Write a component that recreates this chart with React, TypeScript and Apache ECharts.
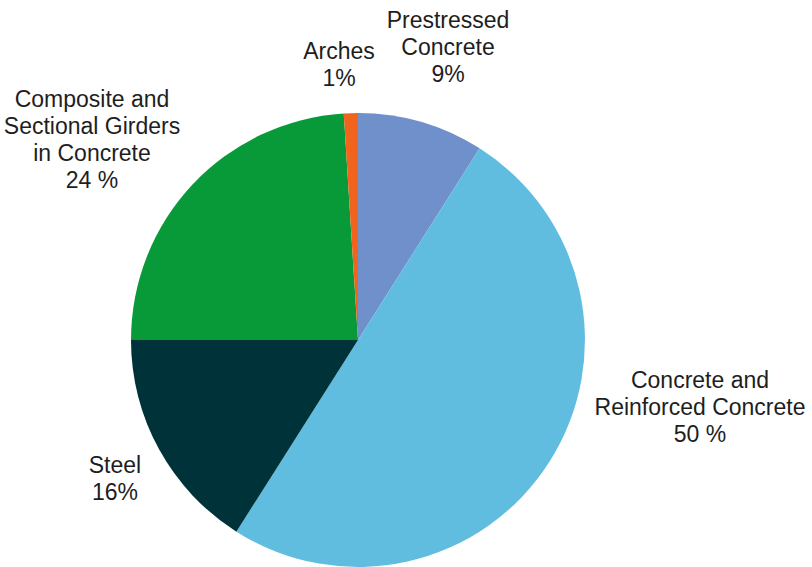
import React, { useEffect, useRef } from "react";
import * as echarts from "echarts";

const categories = [
  "Prestressed\nConcrete",
  "Concrete and\nReinforced Concrete",
  "Steel",
  "Composite and\nSectional Girders\nin Concrete",
  "Arches",
];
const values = [9, 50, 16, 24, 1];
const percentLabels = ["9%", "50 %", "16%", "24 %", "1%"];
const colors = ["#7090cc", "#60bde0", "#00323a", "#089a38", "#f0641e"];
const labelPositions: [number, number][] = [
  [448, 47],
  [700, 407],
  [115, 478],
  [92, 139],
  [339, 64],
];

export default function App() {
  const ref = useRef<HTMLDivElement>(null);
  useEffect(() => {
    if (!ref.current) return;
    const chart = echarts.init(ref.current, undefined, { renderer: "svg" });
    chart.setOption({
      animation: false,
      series: [
        {
          type: "pie",
          center: [358, 340],
          radius: 227,
          startAngle: 90,
          clockwise: true,
          avoidLabelOverlap: false,
          data: categories.map((name, i) => ({
            name,
            value: values[i],
            itemStyle: { color: colors[i] },
          })),
          label: {
            show: true,
            position: "outside",
            formatter: (p: any) => `${p.name}\n${percentLabels[p.dataIndex]}`,
            fontFamily: "Liberation Sans, Arial, sans-serif",
            fontSize: 23,
            lineHeight: 27,
            color: "#1e1e1e",
            align: "center",
          },
          labelLine: { show: false },
          labelLayout: (params: any) => ({
            x: labelPositions[params.dataIndex][0],
            y: labelPositions[params.dataIndex][1],
            align: "center",
            verticalAlign: "middle",
          }),
          emphasis: { disabled: true },
        },
      ],
    });
    return () => chart.dispose();
  }, []);
  return (
    <div
      ref={ref}
      style={{ position: "fixed", left: 0, top: 0, width: 812, height: 567, background: "#fff" }}
    />
  );
}
